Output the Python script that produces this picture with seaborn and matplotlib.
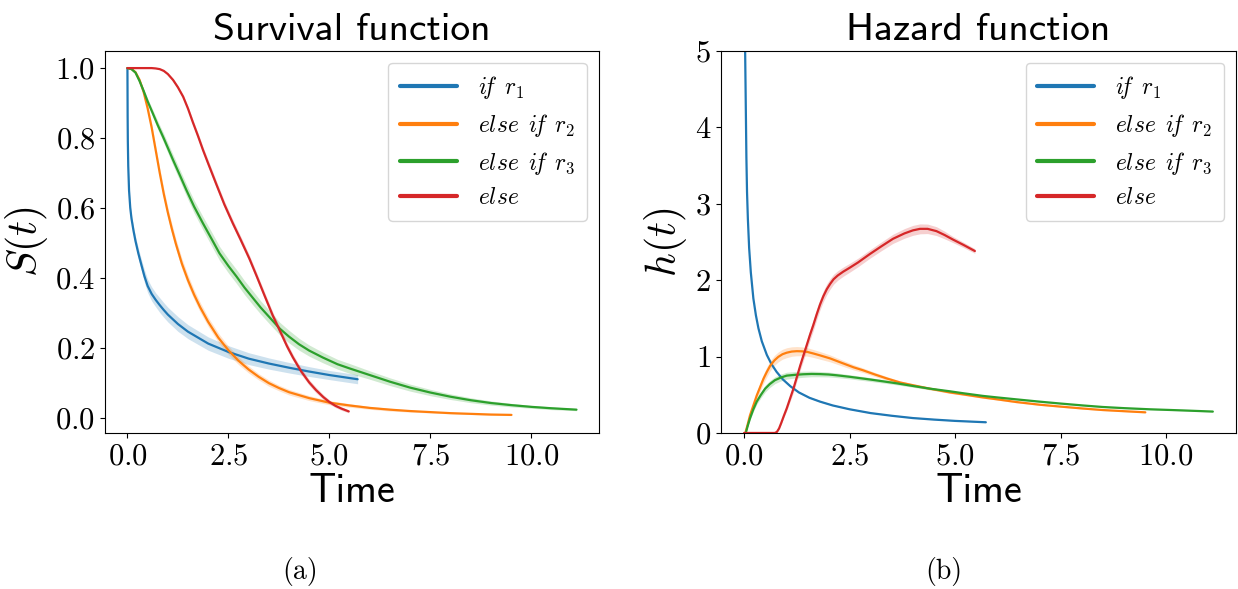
import matplotlib
matplotlib.use("Agg")
import pandas as pd
import seaborn as sns
import matplotlib.pyplot as plt

# legend labels (rules)
rules = [r'$i\!f\ \,r_1$', r'$else\ \,i\!f\ \,r_2$', r'$else\ \,i\!f\ \,r_3$', r'$else$']

# ---------------- survival function S(t) ----------------
surv_t_r1 = [0, 0.005, 0.01, 0.02, 0.04, 0.07, 0.10, 0.15, 0.20, 0.27, 0.35, 0.42, 0.50, 0.60, 0.70, 0.80, 0.90,
             1.0, 1.25, 1.5, 2.0, 2.5, 3.0, 3.5, 4.0, 4.5, 5.0, 5.7]
surv_s_r1 = [1.0, 0.86, 0.79, 0.72, 0.65, 0.60, 0.57, 0.535, 0.505, 0.47, 0.435, 0.405, 0.377, 0.354, 0.337,
             0.322, 0.308, 0.295, 0.268, 0.246, 0.212, 0.188, 0.169, 0.155, 0.143, 0.132, 0.122, 0.110]
surv_ci_r1 = [0, 0.002, 0.003, 0.005, 0.007, 0.009, 0.010, 0.012, 0.013, 0.015, 0.016, 0.018, 0.019, 0.020,
              0.020, 0.021, 0.021, 0.021, 0.021, 0.020, 0.019, 0.018, 0.017, 0.016, 0.015, 0.014, 0.013, 0.013]

surv_t_r2 = [0, 0.1, 0.2, 0.3, 0.4, 0.5, 0.6, 0.7, 0.8, 0.9, 1.0, 1.1, 1.2, 1.35, 1.5, 1.65, 1.8, 2.0, 2.25,
             2.5, 2.75, 3.0, 3.25, 3.5, 3.75, 4.0, 4.5, 5.0, 5.5, 6.0, 6.5, 7.0, 8.0, 9.0, 9.51]
surv_s_r2 = [1.0, 0.998, 0.988, 0.966, 0.932, 0.885, 0.83, 0.765, 0.70, 0.64, 0.587, 0.54, 0.497, 0.44, 0.393,
             0.352, 0.316, 0.274, 0.229, 0.193, 0.163, 0.138, 0.117, 0.099, 0.085, 0.073, 0.056, 0.043, 0.035,
             0.028, 0.023, 0.019, 0.013, 0.009, 0.008]
surv_ci_r2 = [0, 0.002, 0.004, 0.006, 0.008, 0.010, 0.012, 0.013, 0.014, 0.015, 0.015, 0.015, 0.015, 0.015,
              0.015, 0.014, 0.014, 0.013, 0.013, 0.012, 0.011, 0.010, 0.009, 0.009, 0.008, 0.008, 0.007, 0.006,
              0.005, 0.004, 0.004, 0.003, 0.002, 0.002, 0.002]

surv_t_r3 = [0, 0.1, 0.2, 0.3, 0.4, 0.5, 0.63, 0.75, 0.88, 1.0, 1.13, 1.3, 1.46, 1.65, 1.87, 2.1, 2.28, 2.5, 2.7,
             2.9, 3.11, 3.3, 3.52, 3.77, 4.0, 4.25, 4.5, 4.84, 5.2, 5.5, 6.0, 6.5, 7.0, 7.5, 8.0, 8.5, 9.0, 9.5,
             10.0, 10.5, 11.12]
surv_s_r3 = [1.0, 0.997, 0.987, 0.963, 0.935, 0.905, 0.87, 0.837, 0.804, 0.772, 0.737, 0.693, 0.651, 0.604,
             0.556, 0.508, 0.47, 0.434, 0.404, 0.372, 0.342, 0.315, 0.287, 0.255, 0.232, 0.210, 0.192, 0.172,
             0.153, 0.141, 0.122, 0.103, 0.086, 0.072, 0.060, 0.050, 0.042, 0.036, 0.031, 0.027, 0.023]
surv_ci_r3 = [0, 0.001, 0.002, 0.004, 0.006, 0.008, 0.010, 0.012, 0.013, 0.014, 0.015, 0.016, 0.017, 0.018,
              0.019, 0.020, 0.020, 0.020, 0.020, 0.020, 0.020, 0.019, 0.019, 0.018, 0.018, 0.017, 0.016, 0.015,
              0.014, 0.014, 0.012, 0.011, 0.010, 0.009, 0.008, 0.007, 0.006, 0.005, 0.004, 0.004, 0.003]

surv_t_else = [0, 0.6, 0.7, 0.8, 0.9, 1.0, 1.13, 1.25, 1.38, 1.5, 1.62, 1.75, 1.87, 2.0, 2.2, 2.4, 2.61, 2.8,
               3.02, 3.2, 3.4, 3.6, 3.77, 3.95, 4.1, 4.3, 4.5, 4.67, 4.85, 5.0, 5.15, 5.3, 5.48]
surv_s_else = [1.0, 1.0, 0.999, 0.997, 0.992, 0.983, 0.966, 0.945, 0.918, 0.884, 0.845, 0.805, 0.766, 0.727,
               0.668, 0.61, 0.556, 0.51, 0.455, 0.405, 0.348, 0.292, 0.250, 0.205, 0.172, 0.133, 0.101, 0.079,
               0.059, 0.045, 0.034, 0.026, 0.018]
surv_ci_else = [0, 0, 0, 0.001, 0.002, 0.003, 0.004, 0.005, 0.006, 0.007, 0.008, 0.009, 0.009, 0.010, 0.010,
                0.010, 0.010, 0.010, 0.010, 0.010, 0.010, 0.010, 0.010, 0.010, 0.009, 0.009, 0.008, 0.008, 0.007,
                0.006, 0.005, 0.005, 0.004]

# ---------------- hazard function h(t) ----------------
haz_t_r1 = [0.015, 0.025, 0.04, 0.055, 0.07, 0.09, 0.12, 0.16, 0.22, 0.28, 0.34, 0.42, 0.54, 0.65, 0.77, 0.92,
            1.1, 1.3, 1.55, 1.8, 2.1, 2.5, 3.0, 3.5, 4.0, 4.5, 5.0, 5.73]
haz_h_r1 = [9.0, 5.0, 4.3, 3.6, 3.15, 2.8, 2.42, 2.1, 1.76, 1.54, 1.37, 1.2, 1.02, 0.90, 0.80, 0.70, 0.61, 0.53,
            0.46, 0.41, 0.36, 0.31, 0.26, 0.225, 0.195, 0.175, 0.158, 0.14]
haz_ci_r1 = [0.05, 0.04, 0.03, 0.03, 0.02, 0.02, 0.02, 0.015, 0.015, 0.012, 0.012, 0.012, 0.01, 0.01, 0.01,
             0.01, 0.01, 0.01, 0.01, 0.01, 0.008, 0.008, 0.008, 0.008, 0.008, 0.008, 0.008, 0.008]

haz_t_r2 = [0.03, 0.08, 0.14, 0.22, 0.30, 0.38, 0.46, 0.54, 0.62, 0.72, 0.81, 0.91, 1.01, 1.13, 1.25, 1.37, 1.5,
            1.64, 1.8, 2.04, 2.3, 2.59, 2.82, 3.1, 3.4, 3.7, 4.0, 4.4, 4.88, 5.19, 5.66, 6.0, 6.45, 7.0, 7.5,
            8.03, 8.5, 9.0, 9.51]
haz_h_r2 = [0, 0.1, 0.23, 0.36, 0.49, 0.60, 0.71, 0.80, 0.88, 0.95, 0.995, 1.03, 1.05, 1.065, 1.07, 1.068, 1.06,
            1.04, 1.015, 0.975, 0.92, 0.86, 0.82, 0.765, 0.71, 0.66, 0.625, 0.58, 0.53, 0.505, 0.465, 0.44,
            0.405, 0.37, 0.345, 0.32, 0.30, 0.285, 0.27]
haz_ci_r2 = [0, 0.015, 0.03, 0.04, 0.05, 0.055, 0.06, 0.065, 0.065, 0.065, 0.065, 0.065, 0.065, 0.062, 0.06,
             0.058, 0.055, 0.052, 0.05, 0.045, 0.04, 0.035, 0.03, 0.027, 0.024, 0.021, 0.018, 0.015, 0.013,
             0.012, 0.011, 0.010, 0.010, 0.009, 0.008, 0.008, 0.007, 0.006, 0.006]

haz_t_r3 = [0.04, 0.09, 0.14, 0.22, 0.30, 0.40, 0.50, 0.61, 0.73, 0.87, 1.01, 1.2, 1.4, 1.6, 1.8, 2.0, 2.19,
            2.5, 2.98, 3.3, 3.61, 4.0, 4.4, 4.88, 5.19, 5.66, 6.0, 6.45, 7.0, 7.5, 8.03, 8.5, 9.0, 9.61, 10.4,
            11.11]
haz_h_r3 = [0, 0.1, 0.19, 0.31, 0.41, 0.50, 0.58, 0.64, 0.69, 0.725, 0.75, 0.76, 0.768, 0.772, 0.77, 0.765,
            0.755, 0.735, 0.70, 0.675, 0.65, 0.615, 0.58, 0.545, 0.52, 0.485, 0.465, 0.44, 0.41, 0.385, 0.36,
            0.34, 0.325, 0.31, 0.295, 0.28]
haz_ci_r3 = [0, 0.01, 0.02, 0.03, 0.035, 0.04, 0.045, 0.045, 0.045, 0.045, 0.045, 0.042, 0.04, 0.037, 0.035,
             0.032, 0.03, 0.027, 0.025, 0.022, 0.02, 0.017, 0.015, 0.012, 0.011, 0.01, 0.01, 0.009, 0.008,
             0.008, 0.008, 0.007, 0.007, 0.006, 0.006, 0.006]

haz_t_else = [0, 0.73, 0.78, 0.83, 0.88, 0.94, 1.01, 1.09, 1.17, 1.25, 1.33, 1.41, 1.48, 1.56, 1.64, 1.72, 1.80,
              1.88, 1.96, 2.04, 2.12, 2.22, 2.35, 2.5, 2.7, 2.98, 3.25, 3.53, 3.8, 4.0, 4.17, 4.35, 4.56, 4.75,
              4.95, 5.2, 5.47]
haz_h_else = [0, 0, 0.015, 0.06, 0.13, 0.22, 0.32, 0.45, 0.58, 0.73, 0.88, 1.02, 1.14, 1.28, 1.41, 1.55, 1.68,
              1.79, 1.88, 1.95, 2.01, 2.06, 2.11, 2.16, 2.23, 2.34, 2.44, 2.54, 2.61, 2.65, 2.67, 2.67, 2.64,
              2.59, 2.53, 2.46, 2.38]
haz_ci_else = [0, 0, 0.005, 0.01, 0.015, 0.02, 0.03, 0.04, 0.05, 0.055, 0.06, 0.065, 0.065, 0.07, 0.07, 0.07,
               0.07, 0.07, 0.07, 0.068, 0.065, 0.062, 0.06, 0.058, 0.056, 0.055, 0.057, 0.06, 0.063, 0.065,
               0.065, 0.062, 0.058, 0.05, 0.04, 0.035, 0.03]


def to_frame(ts, ys, cis):
    parts = []
    for rule, t, y, c in zip(rules, ts, ys, cis):
        parts.append(pd.DataFrame({'t': t, 'y': y, 'ci': c, 'rule': rule}))
    return pd.concat(parts, ignore_index=True)


surv = to_frame([surv_t_r1, surv_t_r2, surv_t_r3, surv_t_else],
                [surv_s_r1, surv_s_r2, surv_s_r3, surv_s_else],
                [surv_ci_r1, surv_ci_r2, surv_ci_r3, surv_ci_else])
haz = to_frame([haz_t_r1, haz_t_r2, haz_t_r3, haz_t_else],
               [haz_h_r1, haz_h_r2, haz_h_r3, haz_h_else],
               [haz_ci_r1, haz_ci_r2, haz_ci_r3, haz_ci_else])

sns.set_style('ticks', {'axes.edgecolor': 'black', 'xtick.color': 'black', 'ytick.color': 'black',
                        'text.color': 'black', 'axes.labelcolor': 'black'})
plt.rcParams['font.family'] = ['cmr10']
plt.rcParams['mathtext.fontset'] = 'cm'
plt.rcParams['axes.formatter.use_mathtext'] = True
plt.rcParams['axes.unicode_minus'] = False

palette = sns.color_palette('tab10', 4)

fig = plt.figure(figsize=(12.38, 5.89), dpi=100)
ax1 = fig.add_axes([0.0848, 0.2649, 0.399, 0.649])
ax2 = fig.add_axes([0.5821, 0.2649, 0.4165, 0.649])


def draw(ax, df, title, ylabel):
    sns.lineplot(data=df, x='t', y='y', hue='rule', hue_order=rules, palette=palette,
                 sort=False, estimator=None, lw=1.6, ax=ax)
    for rule, col in zip(rules, palette):
        d = df[df['rule'] == rule]
        ax.fill_between(d['t'], d['y'] - d['ci'], d['y'] + d['ci'], color=col, alpha=0.22, lw=0)
    leg = ax.get_legend()
    handles = leg.legend_handles
    leg.remove()
    lg = ax.legend(handles, rules, loc='upper right', fontsize=17, handlelength=2.4,
                   handletextpad=0.9, labelspacing=0.45, borderpad=0.5, framealpha=0.8)
    for ln in lg.get_lines():
        ln.set_linewidth(3)
    ax.set_title(title, fontsize=28.5, family='cmss10', pad=8)
    ax.set_xlabel('Time', fontsize=29, family='cmss10', labelpad=2)
    ax.set_ylabel(ylabel, fontsize=30)
    ax.tick_params(labelsize=22)
    ax.set_xticks([0, 2.5, 5, 7.5, 10])


draw(ax1, surv, 'Survival function', r'$S(t)$')
ax1.set_yticks([0, 0.2, 0.4, 0.6, 0.8, 1.0])

draw(ax2, haz, 'Hazard function', r'$h(t)$')
ax2.set_ylim(0, 5)
ax2.set_yticks([0, 1, 2, 3, 4, 5])

fig.text(300 / 1238, 1 - 572 / 589, '(a)', ha='center', va='center', fontsize=20)
fig.text(944 / 1238, 1 - 572 / 589, '(b)', ha='center', va='center', fontsize=20)

fig.savefig('out.png', dpi=100)
